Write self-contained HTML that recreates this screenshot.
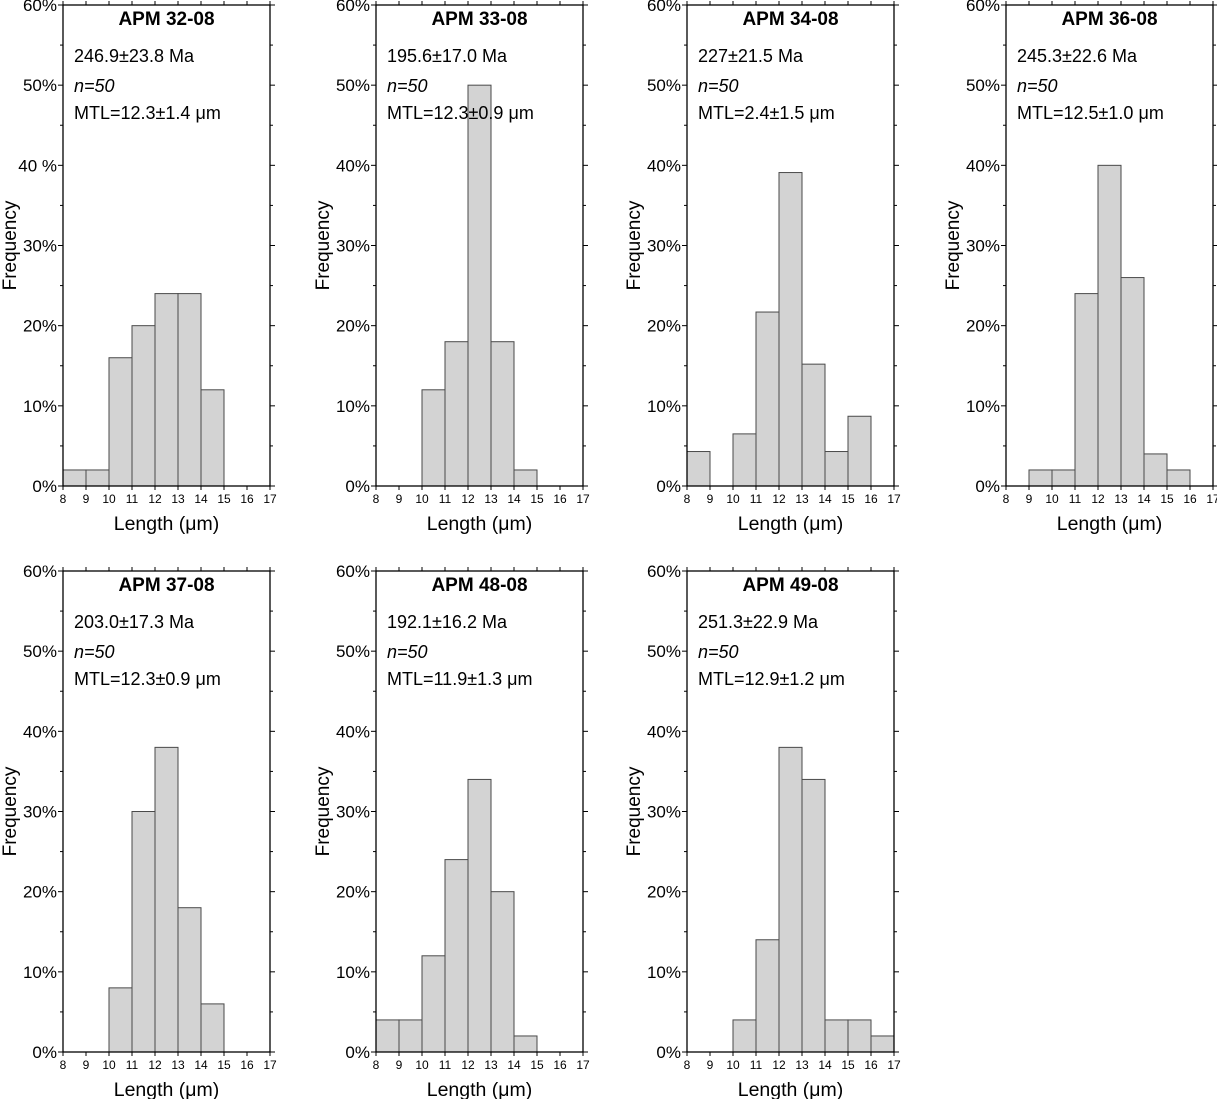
<!DOCTYPE html>
<html><head><meta charset="utf-8"><style>
body{margin:0;background:#fff;}
svg{display:block;font-family:"Liberation Sans",Arial,sans-serif;}
</style></head><body>
<svg id="chart" width="1217" height="1099" viewBox="0 0 1217 1099"></svg>
<script>
const titles=["APM 32-08","APM 33-08","APM 34-08","APM 36-08","APM 37-08","APM 48-08","APM 49-08"];
const ages=["246.9±23.8 Ma","195.6±17.0 Ma","227±21.5 Ma","245.3±22.6 Ma","203.0±17.3 Ma","192.1±16.2 Ma","251.3±22.9 Ma"];
const mtls=["MTL=12.3±1.4 μm","MTL=12.3±0.9 μm","MTL=2.4±1.5 μm","MTL=12.5±1.0 μm","MTL=12.3±0.9 μm","MTL=11.9±1.3 μm","MTL=12.9±1.2 μm"];
const binStarts=[8,9,10,11,12,13,14,15,16];
const xTicks=[8,9,10,11,12,13,14,15,16,17];
const yTicks=[0,10,20,30,40,50,60];
const freq1=[2,2,16,20,24,24,12,0,0];
const freq2=[0,0,12,18,50,18,2,0,0];
const freq3=[4.3,0,6.5,21.7,39.1,15.2,4.3,8.7,0];
const freq4=[0,2,2,24,40,26,4,2,0];
const freq5=[0,0,8,30,38,18,6,0,0];
const freq6=[4,4,12,24,34,20,2,0,0];
const freq7=[0,0,4,14,38,34,4,4,2];
const allFreq=[freq1,freq2,freq3,freq4,freq5,freq6,freq7];
const lefts=[63,376,687,1006];
const tops=[5,571];
const W=207,H=481;
const NS="http://www.w3.org/2000/svg";
const svg=document.getElementById('chart');
function mk(tag,attrs,parent,txt){const e=document.createElementNS(NS,tag);for(const k in attrs)e.setAttribute(k,attrs[k]);if(txt!==undefined)e.textContent=txt;(parent||svg).appendChild(e);return e;}
for(let p=0;p<7;p++){
  const L=lefts[p%4],T=tops[Math.floor(p/4)];
  const xs=v=>L+(v-8)/9*W;
  const ys=v=>T+H-(v/60)*H;
  const g=mk('g',{});
  
  
  allFreq[p].forEach((f,i)=>{
    if(f<=0)return;
    const r=mk('rect',{x:xs(binStarts[i]),y:ys(f),width:xs(binStarts[i]+1)-xs(binStarts[i]),height:ys(0)-ys(f),fill:'#d3d3d3',stroke:'#4a4a4a','stroke-width':1},g);
    
    
  });
  const fr=mk('rect',{x:L,y:T,width:W,height:H,fill:'none',stroke:'#000','stroke-width':1.3},g);
  
  
  for(let v=0;v<=60;v+=5){
    const len=v%10===0?5:3;
    mk('line',{x1:L-len,x2:L,y1:ys(v),y2:ys(v),stroke:'#000','stroke-width':1},g);
    mk('line',{x1:L+W,x2:L+W+len,y1:ys(v),y2:ys(v),stroke:'#000','stroke-width':1},g);
  }
  yTicks.forEach(v=>{
    const t=mk('text',{x:L-6,y:ys(v)+6,'text-anchor':'end','font-size':17,fill:'#000'},g,(p===0&&v===40)?'40 %':v+'%');
    
    
  });
  xTicks.forEach(v=>{
    mk('line',{x1:xs(v),x2:xs(v),y1:T+H,y2:T+H+4,stroke:'#000','stroke-width':1},g);
    mk('line',{x1:xs(v),x2:xs(v),y1:T-4,y2:T,stroke:'#000','stroke-width':1},g);
    const t=mk('text',{x:xs(v),y:T+H+17,'text-anchor':'middle','font-size':12,fill:'#000'},g,String(v));
    
    
  });
  const tt=mk('text',{x:L+W/2,y:T+20,'text-anchor':'middle','font-size':19,'font-weight':'bold'},g,titles[p]);
  
  
  const a=mk('text',{x:L+11,y:T+57,'font-size':18},g,ages[p]);
  
  
  const n=mk('text',{x:L+11,y:T+87,'font-size':18,'font-style':'italic'},g,'n=50');
  
  
  const m=mk('text',{x:L+11,y:T+114,'font-size':18},g,mtls[p]);
  
  
  const xl=mk('text',{x:L+W/2,y:T+H+44,'text-anchor':'middle','font-size':19.5},g,'Length (μm)');
  
  
  const yl=mk('text',{x:0,y:0,'text-anchor':'middle','font-size':19,transform:`translate(${L-47},${T+H/2}) rotate(-90)`},g,'Frequency');
  
  
}
</script>
</body></html>
